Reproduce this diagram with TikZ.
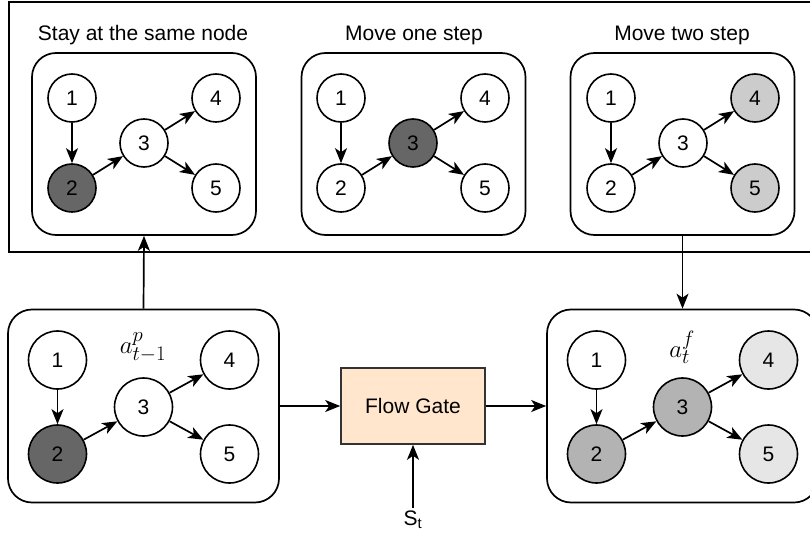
\documentclass[tikz,border=0pt]{standalone}
\usepackage{fontspec}
\setmainfont{Liberation Sans}
\usetikzlibrary{positioning,calc,arrows.meta}

\definecolor{darknode}{HTML}{666666}
\definecolor{midnode}{HTML}{B3B3B3}
\definecolor{greynode}{HTML}{CCCCCC}
\definecolor{palenode}{HTML}{E6E6E6}
\definecolor{gatefill}{HTML}{FFE6CC}

\tikzset{
  gnode/.style={circle, draw, line width=1.6pt, minimum size=48pt, inner sep=0pt},
  panel/.style={draw, rounded corners=24pt, line width=1.7pt, minimum width=224pt, minimum height=182pt},
  bigpanel/.style={panel, minimum width=271pt, minimum height=193pt},
  gatebox/.style={draw=black!80, fill=gatefill, line width=1.6pt, minimum width=144pt, minimum height=76pt},
  flow/.style={->, line width=1.7pt},
  mathlabel/.style={inner sep=0pt, font=\fontsize{28}{30}\selectfont},
}

% one small walk graph: prefix, half width, half height, fills of nodes 1..5
\newcommand{\netgraph}[8]{%
  \node[gnode, fill=#4] (#1-1) at (-#2,-#3) {1};
  \node[gnode, fill=#5] (#1-2) at (-#2,#3) {2};
  \node[gnode, fill=#6] (#1-3) at (0,0) {3};
  \node[gnode, fill=#7] (#1-4) at (#2,-#3) {4};
  \node[gnode, fill=#8] (#1-5) at (#2,#3) {5};
  \draw[flow] (#1-1) -- (#1-2);
  \draw[flow] (#1-2) -- (#1-3);
  \draw[flow] (#1-3) -- (#1-4);
  \draw[flow] (#1-3) -- (#1-5);
}

\begin{document}
\begin{tikzpicture}[x=1pt, y=-1pt, >={Stealth[length=15pt, width=12pt, inset=4pt]},
    every node/.style={font=\fontsize{21}{24}\selectfont}]
  \useasboundingbox (0,0) rectangle (810,537);
  \fill[white] (0,0) rectangle (810,537);

  % options panel
  \draw[line width=1.6pt] (9,2) rectangle (830,252);

  \node (stayl) at (143,35) {Stay at the same node};
  \node (onel)  at (414,35) {Move one step};
  \node (twol)  at (682,35) {Move two step};

  \node[panel] (stay) at (144,144) {};
  \node[panel] (one)  at (413.5,144) {};
  \node[panel] (two)  at (682.5,144) {};

  \begin{scope}[shift={(144,143)}]
    \netgraph{s}{72}{45}{white}{darknode}{white}{white}{white}
  \end{scope}
  \begin{scope}[shift={(413,143)}]
    \netgraph{o}{72}{45}{white}{white}{darknode}{white}{white}
  \end{scope}
  \begin{scope}[shift={(683,143)}]
    \netgraph{w}{72}{45}{white}{white}{white}{greynode}{greynode}
  \end{scope}

  % previous and next attention
  \node[bigpanel] (prev) at (143.5,406) {};
  \node[bigpanel] (next) at (682.5,406) {};

  \begin{scope}[shift={(143.5,407)}, gnode/.append style={minimum size=58pt}]
    \netgraph{p}{86}{47}{white}{darknode}{white}{white}{white}
  \end{scope}
  \begin{scope}[shift={(682.5,407)}, gnode/.append style={minimum size=58pt}]
    \netgraph{f}{86}{47}{white}{midnode}{midnode}{palenode}{palenode}
  \end{scope}

  \node[mathlabel] (pl) at (143,347) {$a^{p}_{t-1}$};
  \node[mathlabel] (fl) at (682,347) {$a^{f}_{t}$};

  \node[gatebox] (gate) at (413,406) {Flow Gate};
  \node (st) at (413,520) {S\textsubscript{t}};

  \draw[flow] (prev.north) -- (stay.south);
  \draw[flow] (two.south) -- (next.north);
  \draw[flow] (prev.east) -- (gate.west);
  \draw[flow] (gate.east) -- (next.west);
  \draw[flow] (st.north) -- (gate.south);
\end{tikzpicture}
\end{document}
